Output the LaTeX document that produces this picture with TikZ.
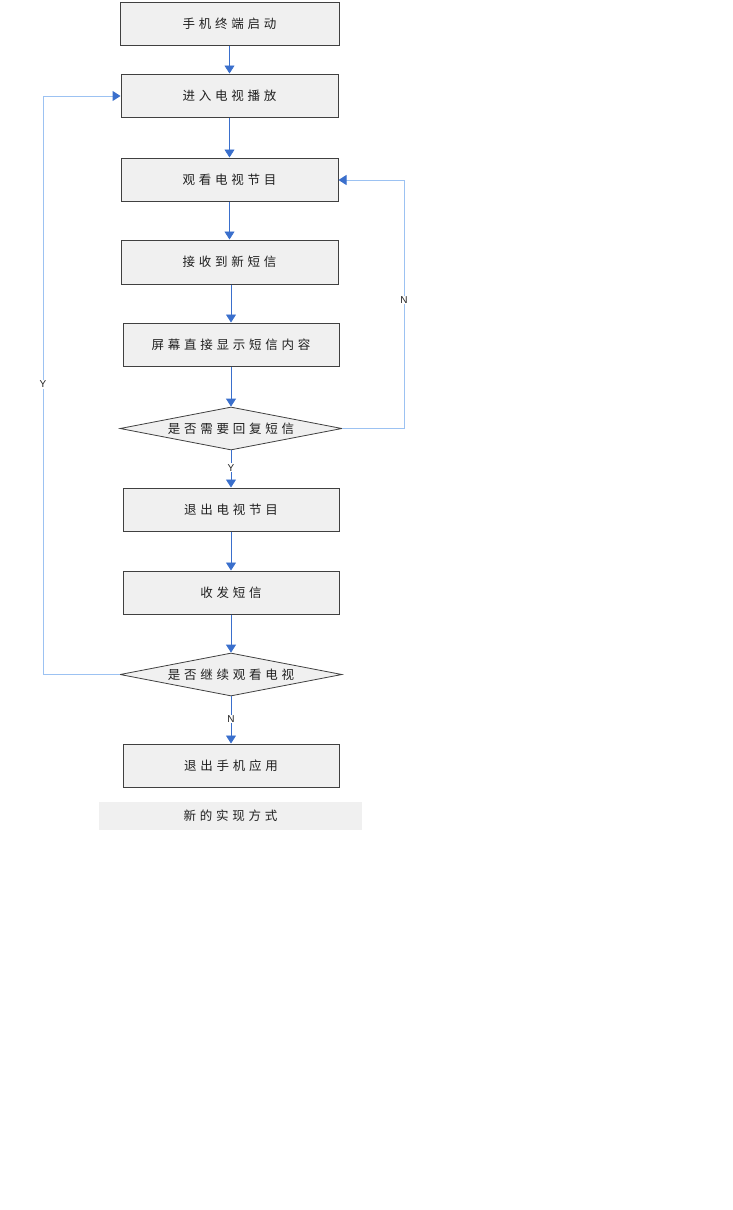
\documentclass[tikz,border=0pt]{standalone}
\usepackage{fontspec}
\newfontfamily\cjk[LetterSpace=30]{Noto Sans CJK SC}
\newfontfamily\latinsf{Liberation Sans}
\usetikzlibrary{shapes.geometric,arrows.meta}
\definecolor{boxfill}{HTML}{F0F0F0}
\definecolor{boxline}{HTML}{404040}
\definecolor{arrowblue}{HTML}{3A6FCC}
\definecolor{loopblue}{HTML}{9CC2F2}
\definecolor{txt}{HTML}{202020}
\tikzset{
  stepbox/.style={draw=boxline,line width=1pt,fill=boxfill,minimum width=217pt,minimum height=43pt,inner sep=0pt,font=\cjk\fontsize{12.5}{14}\selectfont,text=txt},
  decision/.style={draw=boxline,line width=0.8pt,fill=boxfill,shape=diamond,aspect=5.16,minimum width=222pt,minimum height=43pt,inner sep=0pt,font=\cjk\fontsize{12.5}{14}\selectfont,text=txt},
  flow/.style={draw=arrowblue,line width=0.8pt,-{Triangle[width=10pt,length=8pt]}},
  loopline/.style={draw=loopblue,line width=1pt,-{Triangle[width=10pt,length=8pt,color=arrowblue]}},
  yn/.style={fill=white,inner sep=1pt,font=\latinsf\fontsize{10}{11}\selectfont,text=txt},
}
\begin{document}
\begin{tikzpicture}[x=1pt,y=-1pt]
\useasboundingbox (0,0) rectangle (732,1210);
\node[stepbox,minimum width=219pt] (s1) at (229.5,23.5) {手机终端启动};
\node[stepbox] (s2) at (229.5,95.5) {进入电视播放};
\node[stepbox] (s3) at (229.5,179.5) {观看电视节目};
\node[stepbox,minimum height=44pt] (s4) at (229.5,262) {接收到新短信};
\node[stepbox,minimum width=216pt] (s5) at (231,344.5) {屏幕直接显示短信内容};
\node[decision] (d1) at (231,428.5) {是否需要回复短信};
\node[stepbox,minimum width=216pt] (s6) at (231,509.5) {退出电视节目};
\node[stepbox,minimum width=216pt] (s7) at (231,592.5) {收发短信};
\node[decision] (d2) at (231,674.5) {是否继续观看电视};
\node[stepbox,minimum width=216pt] (s8) at (231,765.5) {退出手机应用};
\node[fill=boxfill,minimum width=263pt,minimum height=28pt,inner sep=0pt,font=\cjk\fontsize{12.5}{14}\selectfont,text=txt] (cap) at (230.5,816) {新的实现方式};
\coordinate (nr) at (404,428.5);
\coordinate (nt) at (404,180);
\coordinate (yl) at (43,674.5);
\coordinate (yt) at (43,96);
\draw[flow] (s1.south) -- (s2.north);
\draw[flow] (s2.south) -- (s3.north);
\draw[flow] (s3.south) -- (s4.north);
\draw[flow] (s5.north |- s4.south) -- (s5.north);
\draw[flow] (s5.south) -- (d1.north);
\draw[flow] (d1.south) -- node[yn,pos=0.47]{Y} (s6.north);
\draw[flow] (s6.south) -- (s7.north);
\draw[flow] (s7.south) -- (d2.north);
\draw[flow] (d2.south) -- node[yn,pos=0.48]{N} (s8.north);
\draw[loopline] (d1.east) -- (nr) -- node[yn,pos=0.517]{N} (nt) -- (s3.east |- nt);
\draw[loopline] (d2.west) -- (yl) -- node[yn,pos=0.502]{Y} (yt) -- (s2.west |- yt);
\end{tikzpicture}
\end{document}
